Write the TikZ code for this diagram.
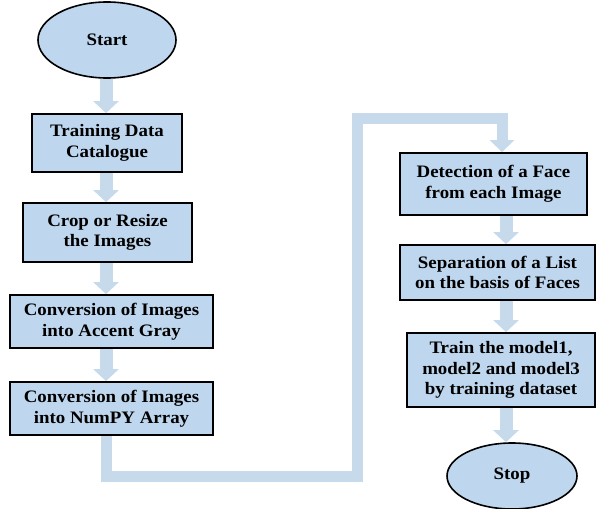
\documentclass[tikz,border=0pt]{standalone}
\usepackage{fontspec}
\setmainfont{Liberation Serif}[FakeStretch=1.08]
\usetikzlibrary{shapes.geometric,arrows.meta}

\definecolor{boxfill}{RGB}{190,215,238}
\definecolor{flowblue}{RGB}{198,218,236}

\tikzset{
	stepbox/.style={draw=black,line width=1.8pt,fill=boxfill,align=center,inner sep=0pt,font=\bfseries\fontsize{17.5}{20.5}\selectfont},
	term/.style={ellipse,draw=black,line width=1.6pt,fill=boxfill,inner sep=0pt,font=\bfseries\fontsize{17.5}{20.5}\selectfont},
	flow/.style={flowblue,line width=13pt,-{Triangle[width=25pt,length=12pt]}},
	longflow/.style={flowblue,line width=11pt,-{Triangle[width=24pt,length=12pt]}}
}

\begin{document}
\begin{tikzpicture}[x=1pt,y=-1pt]
	\useasboundingbox (0,0) rectangle (596,508);
	% left column
	\node[term,minimum width=138pt,minimum height=76pt] (start) at (107,40) {Start};
	\node[stepbox,minimum width=150pt,minimum height=58pt] (data) at (107,143) {Training Data\\Catalogue};
	\node[stepbox,minimum width=169pt,minimum height=59pt] (crop) at (107.5,232.5) {Crop or Resize\\the Images};
	\node[stepbox,minimum width=203pt,minimum height=53pt] (gray) at (111.5,321.5) {Conversion of Images\\into Accent Gray};
	\node[stepbox,minimum width=203pt,minimum height=53pt] (numpy) at (111.5,408.5) {Conversion of Images\\into NumPY Array};
	% right column
	\node[stepbox,minimum width=187pt,minimum height=62pt] (face) at (493.5,184) {Detection of a Face\\from each Image};
	\node[stepbox,minimum width=195pt,minimum height=55pt] (list) at (497.5,272.5) {Separation of a List\\on the basis of Faces};
	\node[stepbox,minimum width=188pt,minimum height=74pt] (train) at (501,370) {Train the model1,\\model2 and model3\\by training dataset};
	\node[term,minimum width=130pt,minimum height=66pt] (stop) at (512,476) {Stop};
	\coordinate (lcol) at (106,0);
	\coordinate (rcol) at (506,0);
	\coordinate (low) at (357,476);
	\coordinate (high) at (357,118);
	% connectors
	\draw[flow] (start.south -| lcol) -- (data.north -| lcol);
	\draw[flow] (data.south -| lcol) -- (crop.north -| lcol);
	\draw[flow] (crop.south -| lcol) -- (gray.north -| lcol);
	\draw[flow] (gray.south -| lcol) -- (numpy.north -| lcol);
	\draw[longflow] (numpy.south -| lcol) |- (low) -- (high) -| ([xshift=-4pt]face.north -| rcol);
	\draw[flow] (face.south -| rcol) -- (list.north -| rcol);
	\draw[flow] (list.south -| rcol) -- (train.north -| rcol);
	\draw[flow] (train.south -| rcol) -- (stop.north -| rcol);
\end{tikzpicture}
\end{document}
